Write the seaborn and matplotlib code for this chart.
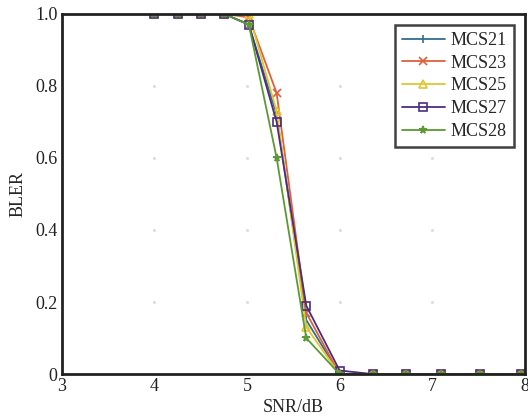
import numpy as np
import pandas as pd
import matplotlib
matplotlib.use("Agg")
import matplotlib.pyplot as plt
import seaborn as sns

snr = [4.0, 4.25, 4.5, 4.75, 5.02, 5.32, 5.64, 6.0, 6.36, 6.72, 7.1, 7.52, 7.96]
mcs21 = [1.0, 1.0, 1.0, 1.0, 0.97, 0.72, 0.15, 0.0, 0.0, 0.0, 0.0, 0.0, 0.0]
mcs23 = [1.0, 1.0, 1.0, 1.0, 0.99, 0.78, 0.17, 0.0, 0.0, 0.0, 0.0, 0.0, 0.0]
mcs25 = [1.0, 1.0, 1.0, 1.0, 1.0, 0.73, 0.13, 0.0, 0.0, 0.0, 0.0, 0.0, 0.0]
mcs27 = [1.0, 1.0, 1.0, 1.0, 0.97, 0.70, 0.19, 0.01, 0.0, 0.0, 0.0, 0.0, 0.0]
mcs28 = [1.0, 1.0, 1.0, 1.0, 0.97, 0.60, 0.10, 0.0, 0.0, 0.0, 0.0, 0.0, 0.0]
names = ["MCS21", "MCS23", "MCS25", "MCS27", "MCS28"]
xticks = [3, 4, 5, 6, 7, 8]
yticks = [0, 0.2, 0.4, 0.6, 0.8, 1.0]
ylabels = ["0", "0.2", "0.4", "0.6", "0.8", "1.0"]

series = [mcs21, mcs23, mcs25, mcs27, mcs28]
df = pd.concat([pd.DataFrame({"SNR": snr, "BLER": v, "MCS": n}) for n, v in zip(names, series)])

colors = {"MCS21": "#2f6f8f", "MCS23": "#e0603a", "MCS25": "#e3c531",
          "MCS27": "#4b2d7f", "MCS28": "#5b9a32"}
markers = {"MCS21": "|", "MCS23": "x", "MCS25": "^", "MCS27": "s", "MCS28": "*"}

sns.set_style("white")
plt.rcParams['font.family'] = ['Liberation Serif', 'DejaVu Serif']

fig = plt.figure(figsize=(5.28, 4.18), dpi=100)
ax = fig.add_axes([0.117, 0.105, 0.877, 0.862])

# faint dots where the grid lines would cross
gx, gy = np.meshgrid(xticks[1:-1], yticks[1:-1])
ax.scatter(gx.ravel(), gy.ravel(), s=1.5, color="#dddddd", zorder=0)

for n in names:
    sub = df[df["MCS"] == n]
    hollow = n in ("MCS25", "MCS27")
    sns.lineplot(data=sub, x="SNR", y="BLER", ax=ax, color=colors[n], label=n,
                 marker=markers[n], markersize=5.5, linewidth=1.3,
                 markerfacecolor="none" if hollow else colors[n],
                 markeredgecolor=colors[n], markeredgewidth=1.2)

ax.set_xlim(3, 8)
ax.set_ylim(0, 1.0)
ax.set_xticks(xticks)
ax.set_yticks(yticks)
ax.set_yticklabels(ylabels)
ax.tick_params(direction="in", length=4, width=1.2, labelsize=13, colors="#222222", pad=3)
ax.set_xlabel("SNR/dB", fontsize=13, labelpad=3)
ax.set_ylabel("BLER", fontsize=13, labelpad=6)
for s in ax.spines.values():
    s.set_linewidth(2)
    s.set_color("#222222")

leg = ax.legend(loc="upper right", fontsize=13, frameon=True, fancybox=False,
                edgecolor="#111111", handlelength=2.4, borderpad=0.4,
                labelspacing=0.32, handletextpad=0.3, borderaxespad=0.6)
leg.get_frame().set_linewidth(1.8)

fig.savefig("out.png", dpi=100)
